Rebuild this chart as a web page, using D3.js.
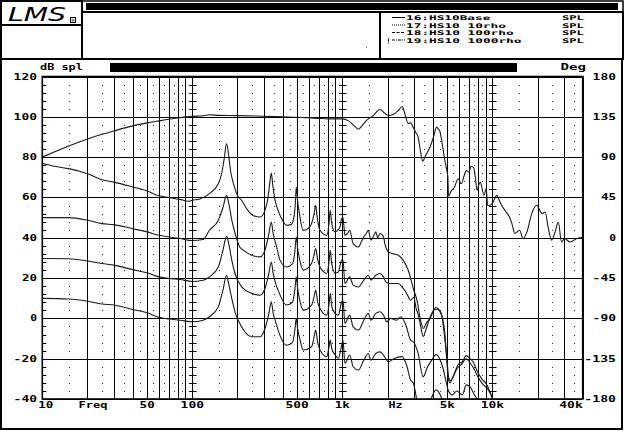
<!DOCTYPE html>
<html>
<head>
<meta charset="utf-8">
<script src="https://cdn.jsdelivr.net/npm/d3@7/dist/d3.min.js"></script>
<style>
body { margin: 0; background: #fff; }
text { font-family: "DejaVu Sans Mono", monospace; font-weight: bold; font-size: 9px; fill: #000; }
text.leg { font-size: 6.4px; }
</style>
</head>
<body>
<svg id="chart" width="624" height="431"></svg>
<script>
// ---- data: [frequency Hz, dB spl] ----
var curveTop = [[10,80],[12,82.5],[15,85.5],[20,89],[25,91.3],[30,93],[40,95.5],[50,97],[60,98],[70,98.8],[80,99.4],[100,100.2],[120,100.5],[130,101],[150,100.7],[200,100.6],[300,100.3],[400,100],[500,99.8],[600,99.5],[700,99.2],[800,99],[1000,99],[1100,98],[1200,95.5],[1280,93.8],[1350,95.5],[1450,98.2],[1600,100.5],[1780,103.6],[1900,102],[2030,100.7],[2180,101.2],[2350,103],[2510,105.1],[2600,102],[2750,96.6],[2850,97],[2970,94.6],[3100,92],[3200,89.9],[3300,84],[3430,78],[3600,81],[3840,85],[4050,90],[4250,94.9],[4350,94],[4450,93.2],[4600,88],[4800,79.2],[4950,74],[5050,70.1],[5100,60.6],[5300,63],[5600,65.2],[5900,69.3],[6200,66.8],[6500,71],[6700,73.4],[7000,72.5],[7200,75.5],[7500,74.8],[7700,70],[7900,63.5],[8100,66],[8300,67.6],[8800,61],[9100,64.4],[9300,56],[9600,56.1],[10000,57],[10700,61],[11200,58],[11700,55.3],[12300,53],[13000,50.3],[13500,47],[14100,42.1],[15200,43.7],[16000,39.6],[17000,42.9],[18300,52],[19700,56.1],[21500,52],[22500,52.8],[23500,45.4],[24800,38.8],[26200,42.9],[27500,47.8],[28900,37.9],[30300,39.6],[32900,37.9],[36600,39.6],[40000,40.2]];

var curve16 = [[10,77],[12,75.5],[15,74.3],[20,71.8],[25,68.8],[30,67.6],[40,65.2],[50,63.2],[60,60.8],[70,60],[84,58.9],[94,58.1],[100,58.6],[112,59.2],[130,61.9],[149,66.8],[157,72],[163,79],[169,86.6],[174,82],[180,73],[188,66.8],[200,61],[213,58.6],[235,53.5],[254,51.1],[283,50.3],[305,53.6],[318,59],[328,67],[336,72.1],[344,66],[355,59],[373,53.6],[400,48.5],[424,46.2],[455,46.5],[475,50],[486,57],[493,65.2],[502,59],[515,53],[549,43.7],[590,44.5],[623,47],[645,51],[664,56.1],[680,50],[710,43.7],[787,41.2],[815,47],[830,53.6],[850,47],[893,42.9],[940,44],[970,46],[990,49.5],[1010,50],[1040,41.2],[1080,42],[1120,43.7],[1180,37.1],[1280,35.4],[1340,38],[1390,40.4],[1440,42],[1490,43.7],[1550,38.8],[1620,41],[1670,42.9],[1720,40],[1780,42.1],[1880,40.4],[1930,36.3],[2030,33],[2200,32],[2360,31.3],[2540,28.9],[2750,23.9],[2970,14.8],[3160,8.2],[3300,0],[3470,-5],[3650,-2],[3840,0],[4000,3],[4200,5.4],[4450,4],[4600,1.6],[4800,-9],[5000,-21.5],[5100,-29],[5250,-31],[5600,-27],[5900,-23],[6300,-21.5],[6700,-18.5],[7100,-20],[7500,-22],[7900,-26],[8500,-30],[9100,-32.5],[9700,-37],[10500,-45]];

var curve17 = [[10,50],[15,50],[20,48.7],[25,47],[30,46.5],[40,44.5],[50,42.9],[60,41.2],[70,40.4],[83,39.6],[100,38.6],[118,39.1],[130,43.7],[149,48.7],[160,55],[169,61],[175,57],[183,49],[193,42],[207,35.4],[222,33.5],[249,31.3],[283,30.5],[305,33.8],[322,41],[336,47.8],[346,42],[365,35.4],[384,28.9],[424,25.5],[465,27],[482,33],[493,40.4],[503,35],[520,29],[549,23.9],[623,27.2],[645,31],[664,34.6],[685,29],[710,25.5],[787,22.3],[815,28],[830,33.8],[850,27],[893,22.5],[940,23],[990,28.9],[1010,29],[1040,17.3],[1120,20.6],[1180,16.5],[1280,15.6],[1390,19],[1490,21.4],[1550,19],[1670,21.4],[1780,22.3],[1880,20.6],[1950,18.1],[2050,17.3],[2360,17.3],[2500,15.6],[2700,12],[2850,9],[3000,10.5],[3100,5],[3200,2],[3330,-4],[3450,-9],[3600,-5.8],[3750,-1.7],[3950,2.5],[4100,4.3],[4300,4.5],[4500,3],[4650,0],[4800,-6],[4950,-19],[5050,-28],[5200,-32],[5400,-30],[5800,-25],[6200,-23],[6700,-20],[7100,-22],[7600,-25.5],[8000,-29],[8600,-32.5],[9300,-35],[9800,-38],[10500,-44]];

var curve18 = [[10,29.7],[15,29.6],[20,28.5],[25,27.2],[30,26.4],[40,24.2],[50,22.6],[60,20.6],[70,19.8],[83,19.3],[100,18.3],[118,18.9],[130,20.6],[149,25.5],[160,33.8],[169,40.7],[175,37],[183,29],[193,22],[213,15.6],[249,12.4],[283,11.5],[305,14.8],[323,22],[336,28],[346,22.3],[360,17],[373,14],[424,6.6],[465,8],[482,14],[493,20.6],[503,15],[520,9],[549,4.1],[623,6.6],[645,10],[664,14],[685,8],[710,4.9],[787,1.6],[815,7],[830,12.4],[850,6],[893,2.5],[940,1.6],[990,8.2],[1010,9],[1040,-2.5],[1120,1.6],[1180,-4.2],[1280,-5.8],[1390,-0.9],[1490,2.5],[1550,-0.9],[1670,2.5],[1780,3.3],[1880,1.6],[1980,-1.7],[2100,0],[2300,-0.9],[2450,0.8],[2650,-3.3],[2850,-10.8],[2970,-11.6],[3200,-17.4],[3450,-29],[3700,-24],[3950,-20.7],[4200,-18],[4450,-20],[4700,-25],[4900,-31],[5100,-36],[5400,-38],[5800,-36],[6300,-38],[6700,-33],[7100,-34],[7600,-38],[8300,-42]];

var curve19 = [[10,9.9],[15,9.6],[20,8.5],[25,7.1],[30,6.6],[40,4.4],[50,2.8],[60,0.5],[70,-0.3],[83,-0.9],[100,-1.7],[118,-0.9],[130,0.8],[149,5.7],[160,14],[169,21.4],[175,17],[183,10],[193,3],[213,-4.2],[249,-9.1],[283,-9.1],[305,-5],[323,2],[336,8.2],[346,2.5],[360,-2],[373,-5.8],[424,-13.3],[465,-12],[482,-6],[493,0],[503,-5],[520,-10],[549,-15.7],[623,-14.1],[645,-10],[664,-5.8],[685,-12],[710,-15.7],[787,-19],[815,-14],[830,-10.8],[850,-15],[893,-18],[940,-19.8],[990,-13.3],[1010,-10.8],[1040,-22.3],[1120,-18.2],[1180,-24],[1280,-25.6],[1390,-20.7],[1490,-17.4],[1550,-20.7],[1670,-17.4],[1780,-16.6],[1880,-18.2],[2030,-21.5],[2200,-20],[2500,-19],[2700,-24],[2850,-30.6],[2970,-32],[3150,-41],[3500,-48],[3900,-40],[4200,-35.5],[4500,-38],[4800,-45]];

var dbTicks = [-40, -20, 0, 20, 40, 60, 80, 100, 120];
var degTicks = [-180, -135, -90, -45, 0, 45, 90, 135, 180];
var freqLabels = [[10, "10"], [50, "50"], [100, "100"], [500, "500"], [1000, "1k"], [5000, "5k"], [10000, "10k"], [40000, "40k"]];
var legendNames = ["16:HS10Base", "17:HS10 10rho", "18:HS10 100rho", "19:HS10 1000rho"];
var legendUnit = "SPL";

var svg = d3.select("#chart");

var x = d3.scaleLog().domain([10, 40000]).range([42.3, 582.7]);
var y = d3.scaleLinear().domain([-40, 120]).range([399, 76.5]);
var yDeg = d3.scaleLinear().domain([-180, 180]).range([399, 76.5]);

// stretched bitmap-looking text
function label(px, py, str, anchor, adv) {
  adv = adv || 8;
  return svg.append("text")
    .attr("x", px).attr("y", py)
    .attr("text-anchor", anchor || "start")
    .attr("textLength", str.length * adv - 1.5)
    .attr("lengthAdjust", "spacingAndGlyphs")
    .text(str);
}

// ---- header ----
var hdr = svg.append("g").attr("fill", "none").attr("stroke", "#000").attr("stroke-width", 2);
hdr.append("rect").attr("x", 1).attr("y", 1).attr("width", 81).attr("height", 24);
hdr.append("rect").attr("x", 1).attr("y", 25).attr("width", 81).attr("height", 34);
hdr.append("rect").attr("x", 82).attr("y", 1).attr("width", 541).attr("height", 11).attr("stroke-width", 1.5);
hdr.append("rect").attr("x", 82).attr("y", 12).attr("width", 298).attr("height", 47);
hdr.append("rect").attr("x", 380).attr("y", 12).attr("width", 243).attr("height", 47);
svg.append("rect").attr("x", 86).attr("y", 3).attr("width", 532).attr("height", 7).attr("fill", "#000");
svg.append("rect").attr("x", 366).attr("y", 47).attr("width", 1).attr("height", 1).attr("fill", "#777");

svg.append("text").attr("x", 8).attr("y", 21)
  .style("font-family", "'DejaVu Sans', sans-serif").style("font-style", "oblique")
  .style("font-weight", "normal").style("font-size", "20px")
  .attr("textLength", 58).attr("lengthAdjust", "spacingAndGlyphs")
  .text("LMS");
svg.append("rect").attr("x", 70.5).attr("y", 17.5).attr("width", 5).attr("height", 5)
  .attr("fill", "none").attr("stroke", "#000").attr("stroke-width", 1);
svg.append("text").attr("x", 73).attr("y", 22).attr("text-anchor", "middle")
  .style("font-size", "5px").text("\u00ae");

// legend
var dashes = [null, "1,1", "3,1.5", "3,1,1,1"];
legendNames.forEach(function(name, i) {
  var by = 20 + i * 7.5;
  svg.append("line").attr("x1", 392).attr("x2", 405).attr("y1", by - 2.5).attr("y2", by - 2.5)
    .attr("stroke", "#000").attr("stroke-width", 1).attr("stroke-dasharray", dashes[i]);
  label(406, by, name, "start", 7.8).attr("class", "leg");
  label(562, by, legendUnit, "start", 7.8).attr("class", "leg");
});
svg.append("line").attr("x1", 388.5).attr("x2", 388.5).attr("y1", 38.5).attr("y2", 43.5)
  .attr("stroke", "#000").attr("stroke-width", 1).attr("stroke-dasharray", "3,1");
svg.append("rect").attr("x", 412).attr("y", 58).attr("width", 12).attr("height", 2).attr("fill", "#fff");

// ---- chart panel ----
svg.append("rect").attr("x", 1).attr("y", 59).attr("width", 621).attr("height", 370)
  .attr("fill", "none").attr("stroke", "#000").attr("stroke-width", 2);
svg.append("rect").attr("x", 110).attr("y", 63).attr("width", 407).attr("height", 9).attr("fill", "#000");
label(40, 70, "dB spl", "start", 7.4);
label(586, 70, "Deg", "end", 9);

var grid = svg.append("g");

// minor dot grid (every 4 dB, half-way between the solid frequency lines)
var dotRows = d3.range(-36, 120, 4).filter(function(v) { return v % 20 !== 0; });
var dotCols = [];
[10, 100, 1000, 10000].forEach(function(dec) {
  for (var k = 1; k <= 9; k++) {
    var f = (k + 0.5) * dec;
    if (f < 40000) dotCols.push(f);
  }
});
dotCols.forEach(function(f) {
  grid.selectAll(null).data(dotRows).enter().append("rect")
    .attr("x", Math.round(x(f))).attr("y", function(d) { return Math.round(y(d)); })
    .attr("width", 1).attr("height", 1).attr("fill", "#333");
});

// solid frequency lines
grid.selectAll(".vl").data(x.ticks()).enter().append("line")
  .attr("class", "vl")
  .attr("x1", function(d) { return Math.round(x(d)) + 0.5; })
  .attr("x2", function(d) { return Math.round(x(d)) + 0.5; })
  .attr("y1", y(120)).attr("y2", y(-40))
  .attr("stroke", "#000").attr("stroke-width", 1);

// dB lines
grid.selectAll(".hl").data(dbTicks).enter().append("line")
  .attr("class", "hl")
  .attr("x1", x(10)).attr("x2", x(40000))
  .attr("y1", function(d) { return Math.round(y(d)) + 0.5; })
  .attr("y2", function(d) { return Math.round(y(d)) + 0.5; })
  .attr("stroke", "#000").attr("stroke-width", 1);

// small tick crosses on decade lines and the left axis
[100, 1000, 10000].forEach(function(f) {
  var cx = Math.round(x(f)) + 0.5;
  grid.selectAll(null).data(dotRows).enter().append("line")
    .attr("x1", cx - 3).attr("x2", cx + 4)
    .attr("y1", function(d) { return Math.round(y(d)) + 0.5; })
    .attr("y2", function(d) { return Math.round(y(d)) + 0.5; })
    .attr("stroke", "#000").attr("stroke-width", 1);
});
grid.selectAll(null).data(dotRows).enter().append("line")
  .attr("x1", x(10)).attr("x2", x(10) + 4)
  .attr("y1", function(d) { return Math.round(y(d)) + 0.5; })
  .attr("y2", function(d) { return Math.round(y(d)) + 0.5; })
  .attr("stroke", "#000").attr("stroke-width", 1);

// plot frame
svg.append("rect").attr("x", x(10)).attr("y", y(120))
  .attr("width", x(40000) - x(10)).attr("height", y(-40) - y(120))
  .attr("fill", "none").attr("stroke", "#000").attr("stroke-width", 1.6);

// axis labels
dbTicks.forEach(function(v) { label(37, y(v) + 3, String(v), "end", 8.3); });
degTicks.forEach(function(v) { label(616, yDeg(v) + 3, String(v), "end", 8.3); });
freqLabels.forEach(function(d, i) {
  var anchor = i === 0 ? "start" : (i === freqLabels.length - 1 ? "end" : "middle");
  var px = i === 0 ? x(d[0]) - 4 : x(d[0]);
  label(px, 408, d[1], anchor, 8.3);
});
label(93, 408, "Freq", "middle", 7.6);
label(395.5, 408, "Hz", "middle", 7.8);

// ---- curves ----
svg.append("defs").append("clipPath").attr("id", "clip")
  .append("rect").attr("x", x(10)).attr("y", y(120))
  .attr("width", x(40000) - x(10)).attr("height", y(-40) - y(120));

var line = d3.line()
  .x(function(d) { return x(d[0]); })
  .y(function(d) { return y(d[1]); })
  .curve(d3.curveMonotoneX);

var curves = svg.append("g").attr("clip-path", "url(#clip)");
[curveTop, curve16, curve17, curve18, curve19].forEach(function(c) {
  curves.append("path").datum(c)
    .attr("d", line)
    .attr("fill", "none")
    .attr("stroke", "#1a1a1a")
    .attr("stroke-width", 1.1)
    .attr("stroke-linejoin", "round");
});
</script>
</body>
</html>
